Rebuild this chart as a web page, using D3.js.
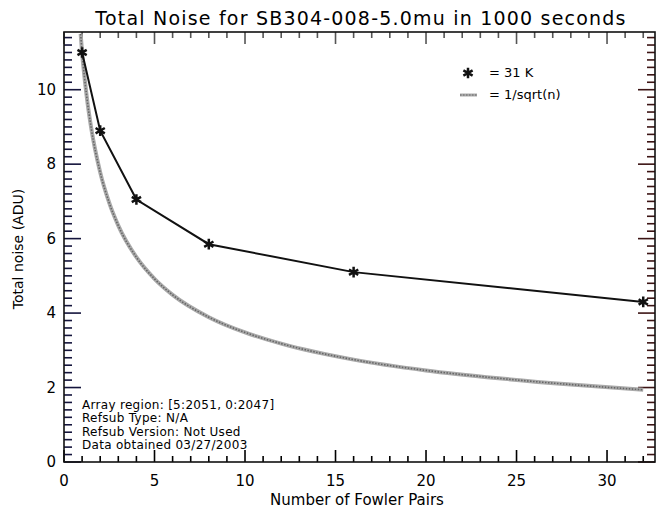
<!DOCTYPE html>
<html>
<head>
<meta charset="utf-8">
<script src="https://cdn.jsdelivr.net/npm/d3@7"></script>
<style>
  body { margin: 0; background: #fff; }
  svg text { font-family: "DejaVu Sans", Verdana, sans-serif; fill: #000; }
</style>
</head>
<body>
<div id="chart"></div>
<script>
// DATA
var fowlerPairs = [1, 2, 4, 8, 16, 32];
var totalNoise = [11.0, 8.9, 7.05, 5.85, 5.1, 4.3];

// 1/sqrt(n) reference curve
var curveN = [0.92, 1, 1.25, 1.5, 2, 2.5, 3, 4, 5, 6, 8, 10, 12, 16, 20, 24, 28, 32];
var curveNoise = [11.5, 11.0, 9.84, 8.98, 7.78, 6.96, 6.35, 5.5, 4.92, 4.49, 3.89, 3.48, 3.18, 2.75, 2.46, 2.25, 2.08, 1.94];

var xTickLabels = [0, 5, 10, 15, 20, 25, 30];
var yTickLabels = [0, 2, 4, 6, 8, 10];

var titleText = "Total Noise for SB304-008-5.0mu in 1000 seconds";
var infoLines = [
  "Array region: [5:2051, 0:2047]",
  "Refsub Type: N/A",
  "Refsub Version: Not Used",
  "Data obtained 03/27/2003"
];
var legendLabels = ["= 31 K", "= 1/sqrt(n)"];

// CHART SETUP
var width = 657, height = 512;
var margin = { top: 32, right: 2, bottom: 50, left: 64 };
var plotW = width - margin.left - margin.right,
  plotH = height - margin.top - margin.bottom;
var inkColor = "#111";

var svg = d3
  .select("#chart")
  .append("svg")
  .attr("width", width)
  .attr("height", height);

var g = svg
  .append("g")
  .attr("transform", "translate(" + margin.left + "," + margin.top + ")");

var xScale = d3.scaleLinear().domain([0, 32.65]).range([0, plotW]);
var yScale = d3.scaleLinear().domain([0, 11.55]).range([plotH, 0]);

// AXES (IDL style: ticks on all four sides, pointing inward)
var xTicks = d3.range(0, 33, 1);
var yTicks = d3.range(0, 58, 1); // fifths of a unit

function xLen(d) { return d % 5 === 0 ? 12 : 6; }
function yLen(i) { return i % 10 === 0 ? 17 : 8; }

g.selectAll(".xtick-bottom")
  .data(xTicks)
  .enter()
  .append("line")
  .attr("class", "xtick-bottom")
  .attr("x1", (d) => xScale(d)).attr("x2", (d) => xScale(d))
  .attr("y1", plotH).attr("y2", (d) => plotH - xLen(d))
  .attr("stroke", "#000").attr("stroke-width", 1.6);

g.selectAll(".xtick-top")
  .data(xTicks)
  .enter()
  .append("line")
  .attr("class", "xtick-top")
  .attr("x1", (d) => xScale(d)).attr("x2", (d) => xScale(d))
  .attr("y1", 0).attr("y2", (d) => xLen(d))
  .attr("stroke", "#555").attr("stroke-width", 1.6);

g.selectAll(".ytick-left")
  .data(yTicks)
  .enter()
  .append("line")
  .attr("class", "ytick-left")
  .attr("y1", (i) => yScale(i / 5)).attr("y2", (i) => yScale(i / 5))
  .attr("x1", 0).attr("x2", (i) => yLen(i))
  .attr("stroke", "#14143c").attr("stroke-width", 1.6);

g.selectAll(".ytick-right")
  .data(yTicks)
  .enter()
  .append("line")
  .attr("class", "ytick-right")
  .attr("y1", (i) => yScale(i / 5)).attr("y2", (i) => yScale(i / 5))
  .attr("x1", plotW).attr("x2", (i) => plotW - yLen(i))
  .attr("stroke", "#3c1414").attr("stroke-width", 1.6);

g.append("rect")
  .attr("width", plotW)
  .attr("height", plotH)
  .attr("fill", "none")
  .attr("stroke", inkColor)
  .attr("stroke-width", 1.6);

// TICK LABELS
g.selectAll(".x-label")
  .data(xTickLabels)
  .enter()
  .append("text")
  .attr("class", "x-label")
  .attr("x", (d) => xScale(d))
  .attr("y", plotH + 24)
  .attr("text-anchor", "middle")
  .style("font-size", "15px")
  .text((d) => d);

g.selectAll(".y-label")
  .data(yTickLabels)
  .enter()
  .append("text")
  .attr("class", "y-label")
  .attr("x", -8)
  .attr("y", (d) => yScale(d) + 5)
  .attr("text-anchor", "end")
  .style("font-size", "15px")
  .text((d) => d);

// TITLES
svg.append("text")
  .attr("x", 361)
  .attr("y", 25)
  .attr("text-anchor", "middle")
  .style("font-size", "19px")
  .style("letter-spacing", "1.2px")
  .text(titleText);

svg.append("text")
  .attr("x", 357)
  .attr("y", 505)
  .attr("text-anchor", "middle")
  .style("font-size", "15px")
  .text("Number of Fowler Pairs");

svg.append("text")
  .attr("transform", "translate(23,249) rotate(-90)")
  .attr("text-anchor", "middle")
  .style("font-size", "14px")
  .text("Total noise (ADU)");

// 1/SQRT(N) CURVE
var curveData = curveN.map((n, i) => ({ n: n, v: curveNoise[i] }));
var curveLine = d3
  .line()
  .x((d) => xScale(d.n))
  .y((d) => yScale(d.v))
  .curve(d3.curveMonotoneX);

g.append("path")
  .datum(curveData)
  .attr("d", curveLine)
  .attr("fill", "none")
  .attr("stroke", "#aaa")
  .attr("stroke-width", 4);
g.append("path")
  .datum(curveData)
  .attr("d", curveLine)
  .attr("fill", "none")
  .attr("stroke", "#666")
  .attr("stroke-width", 1.6)
  .attr("stroke-dasharray", "1.5,1.5");

// MEASURED NOISE
var points = fowlerPairs.map((n, i) => ({ n: n, v: totalNoise[i] }));
g.append("path")
  .datum(points)
  .attr("d", d3.line().x((d) => xScale(d.n)).y((d) => yScale(d.v)))
  .attr("fill", "none")
  .attr("stroke", inkColor)
  .attr("stroke-width", 2);

var star = d3.symbol().type(d3.symbolAsterisk).size(80);
g.selectAll(".marker")
  .data(points)
  .enter()
  .append("path")
  .attr("class", "marker")
  .attr("transform", (d) => "translate(" + xScale(d.n) + "," + yScale(d.v) + ")")
  .attr("d", star)
  .attr("fill", "none")
  .attr("stroke", inkColor)
  .attr("stroke-width", 2.5);

// LEGEND
svg.append("path")
  .attr("transform", "translate(468,73)")
  .attr("d", star)
  .attr("fill", "none")
  .attr("stroke", inkColor)
  .attr("stroke-width", 2.5);
svg.append("line")
  .attr("x1", 460).attr("x2", 477)
  .attr("y1", 95).attr("y2", 95)
  .attr("stroke", "#aaa")
  .attr("stroke-width", 3);
svg.append("line")
  .attr("x1", 460).attr("x2", 477)
  .attr("y1", 95).attr("y2", 95)
  .attr("stroke", "#666")
  .attr("stroke-width", 1.2)
  .attr("stroke-dasharray", "1.5,1.5");

svg.selectAll(".legend-text")
  .data(legendLabels)
  .enter()
  .append("text")
  .attr("class", "legend-text")
  .attr("x", 489)
  .attr("y", (d, i) => 77 + i * 22)
  .style("font-size", "13px")
  .text((d) => d);

// INFO BLOCK
svg.selectAll(".info")
  .data(infoLines)
  .enter()
  .append("text")
  .attr("class", "info")
  .attr("x", 82)
  .attr("y", (d, i) => 409 + i * 13.3)
  .style("font-size", "12px")
  .style("letter-spacing", "0.3px")
  .text((d) => d);
</script>
</body>
</html>
